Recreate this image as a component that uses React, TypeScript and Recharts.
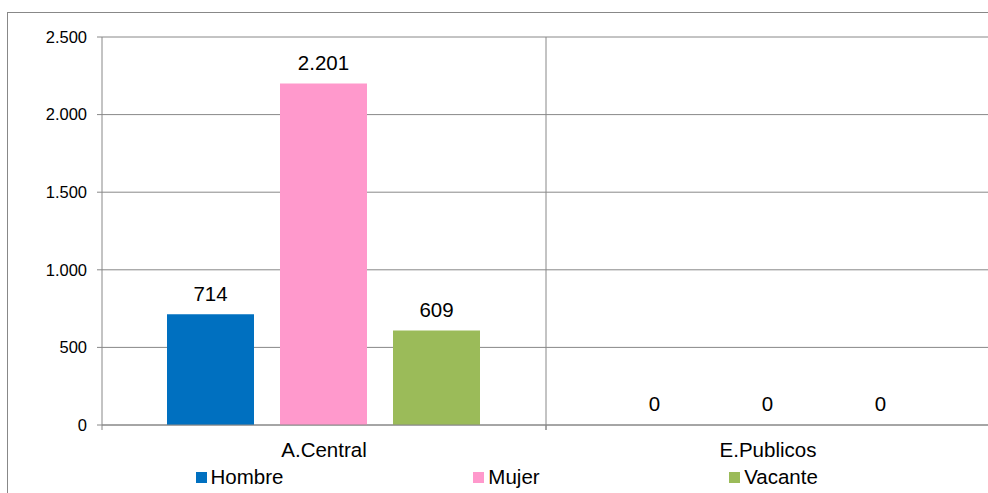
import React from 'react'
import { BarChart, Bar, XAxis, YAxis, CartesianGrid, Legend, LabelList, Rectangle } from 'recharts'

const categories = ['A.Central', 'E.Publicos']
const hombreValues = [714, 0]
const mujerValues = [2201, 0]
const vacanteValues = [609, 0]
const yTicks = [0, 500, 1000, 1500, 2000, 2500]

const seriesColors = {
  Hombre: '#0070C0',
  Mujer: '#FF99CC',
  Vacante: '#9BBB59',
}

const gridColor = '#888888'
const font = "'Liberation Sans', Arial, sans-serif"

// puntos como separador de miles (2.201)
const fmt = (v: number | string) => String(v).replace(/\B(?=(\d{3})+(?!\d))/g, '.')

const chartData = categories.map((name, i) => ({
  name,
  Hombre: hombreValues[i],
  Mujer: mujerValues[i],
  Vacante: vacanteValues[i],
}))

const CategoryTick = (props: any) => {
  const { x, y, payload, width, visibleTicksCount } = props
  const band = width / (visibleTicksCount || categories.length)
  const axisY = y - 17
  return (
    <g>
      <line x1={x - band / 2} x2={x - band / 2} y1={axisY} y2={axisY + 5} stroke={gridColor} />
      <line x1={x + band / 2} x2={x + band / 2} y1={axisY} y2={axisY + 5} stroke={gridColor} />
      <text x={x} y={y} dy="0.71em" textAnchor="middle" fontSize={20.5} fill="#000" fontFamily={font}>
        {payload.value}
      </text>
    </g>
  )
}

// barras en cero: se dibuja solo la etiqueta
const BarShape = (props: any) => (props.height > 1.5 ? <Rectangle {...props} /> : <g />)

const LegendContent = () => (
  <div style={{ display: 'flex', paddingLeft: 98, height: 24, alignItems: 'center', fontFamily: font }}>
    {Object.entries(seriesColors).map(([label, color]) => (
      <div key={label} style={{ width: 267, display: 'flex', justifyContent: 'center', alignItems: 'center' }}>
        <span style={{ width: 11, height: 11, background: color, marginRight: 4, display: 'inline-block' }} />
        <span style={{ fontSize: 20.5, color: '#000', lineHeight: '24px' }}>{label}</span>
      </div>
    ))}
  </div>
)

const App: React.FC = () => {
  return (
    <div style={{ position: 'fixed', left: 0, top: 0, width: 988, height: 493, overflow: 'hidden', background: '#fff' }}>
      <div
        style={{
          position: 'absolute',
          left: 7,
          top: 12,
          width: 1100,
          height: 600,
          border: `1px solid ${gridColor}`,
        }}
      />
      <div style={{ position: 'absolute', left: 8, top: 8 }}>
        <BarChart
          width={980}
          height={485}
          data={chartData}
          margin={{ top: 29, right: -2, left: 0, bottom: 4 }}
          barCategoryGap={65}
          barGap={26}
        >
          <CartesianGrid
            stroke={gridColor}
            horizontal
            vertical
            verticalCoordinatesGenerator={({ offset }: any) => [
              offset.left + offset.width / 2,
              offset.left + offset.width,
            ]}
          />
          <XAxis
            dataKey="name"
            height={40}
            axisLine={{ stroke: gridColor }}
            tickLine={false}
            tickSize={5}
            tickMargin={12}
            tick={<CategoryTick />}
            interval={0}
          />
          <YAxis
            width={94}
            domain={[0, 2500]}
            ticks={yTicks}
            axisLine={{ stroke: gridColor }}
            tickLine={{ stroke: gridColor }}
            tickSize={5}
            tickMargin={10}
            tick={{ fontSize: 16.5, fill: '#000', fontFamily: font }}
            tickFormatter={fmt}
          />
          <Legend verticalAlign="bottom" content={<LegendContent />} />
          {Object.entries(seriesColors).map(([key, color]) => (
            <Bar key={key} dataKey={key} fill={color} minPointSize={1} shape={BarShape} isAnimationActive={false}>
              <LabelList
                dataKey={key}
                position="top"
                offset={13}
                formatter={fmt}
                style={{ fontSize: 20.5, fill: '#000', fontFamily: font }}
              />
            </Bar>
          ))}
        </BarChart>
      </div>
    </div>
  )
}

export default App
